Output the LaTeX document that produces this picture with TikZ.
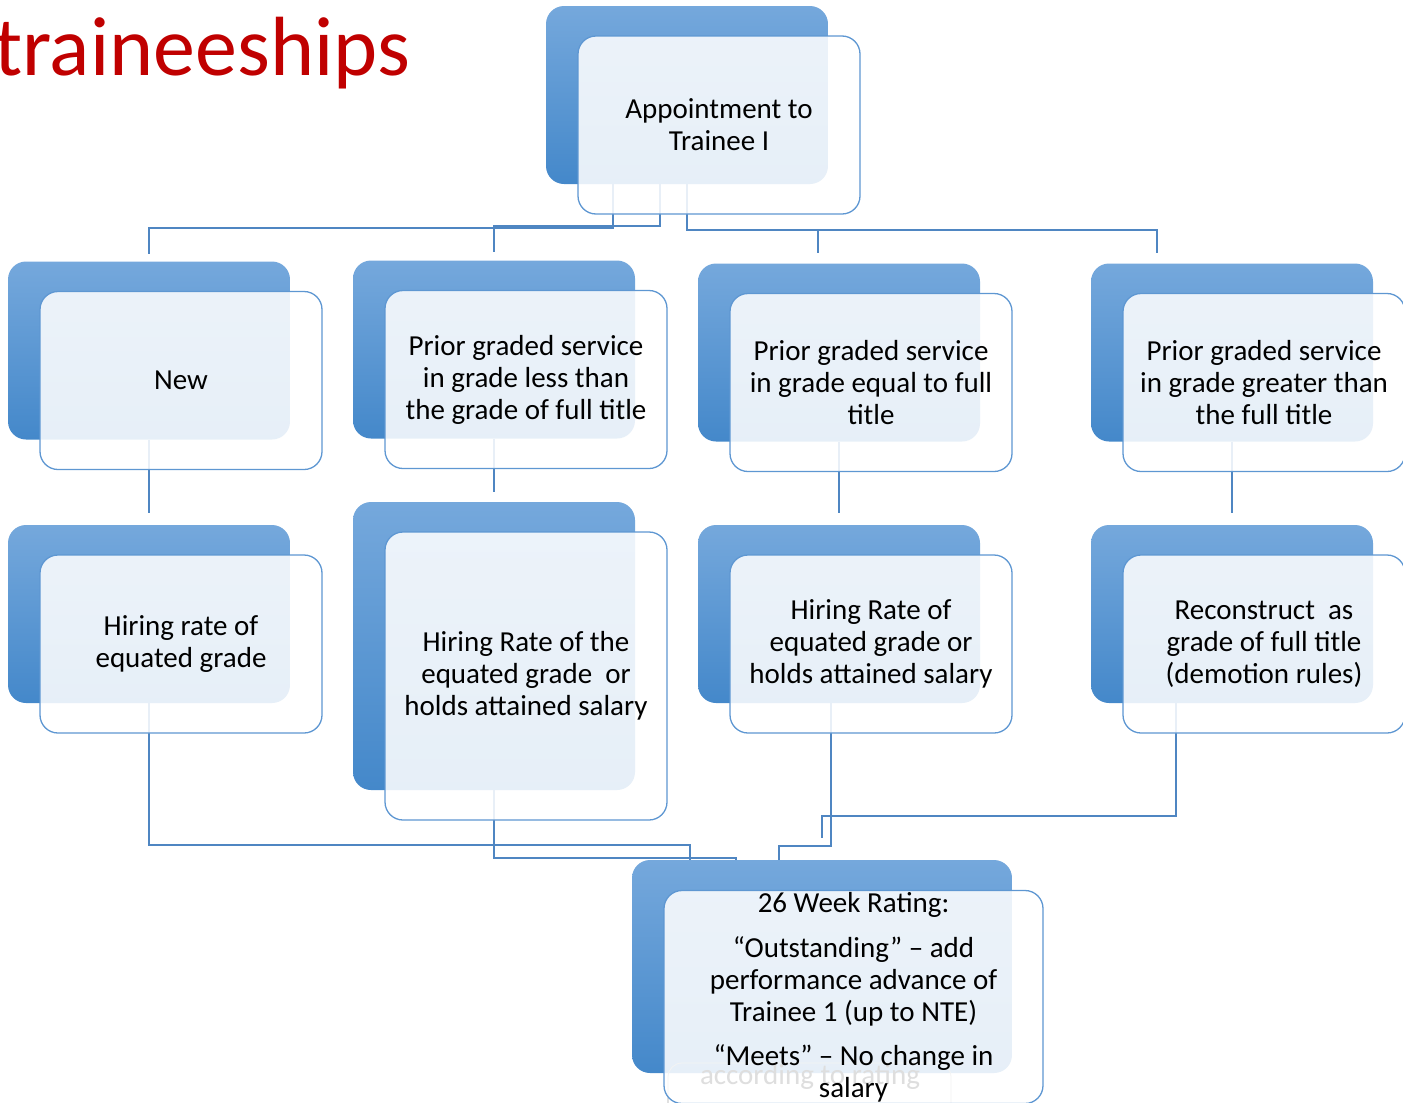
\documentclass[tikz,border=0pt]{standalone}
\usepackage{fontspec}
\setmainfont{Carlito}
\usetikzlibrary{calc}

\definecolor{backtop}{HTML}{75A8DC}
\definecolor{backbot}{HTML}{4488CA}
\definecolor{frontedge}{HTML}{5E97D2}
\definecolor{linkblue}{HTML}{4F86C2}
\definecolor{titlered}{HTML}{C00000}

\newcommand\boxfont{\fontsize{29}{32}\selectfont}

\tikzset{
  backbox/.style={rounded corners=18pt, top color=backtop, bottom color=backbot,
    draw=none, minimum width=282pt, minimum height=178pt, inner sep=0pt, outer sep=0pt},
  frontbox/.style={rounded corners=18pt, draw=frontedge, line width=1.3pt,
    fill=white, fill opacity=0.87, text opacity=1, draw opacity=1,
    minimum width=282pt, minimum height=178pt, inner sep=0pt, outer sep=0pt,
    align=center, font=\boxfont},
  link/.style={draw=linkblue, line width=1.6pt},
}

\begin{document}
\begin{tikzpicture}[x=1pt, y=-1pt]
\useasboundingbox (0,0) rectangle (1403,1103);

% coloured back panels
\node[backbox] (appB)  at (687,95)    {};
\node[backbox] (newB)  at (149,350.5) {};
\node[backbox] (lessB) at (494,349.5) {};
\node[backbox] (eqB)   at (839,352.5) {};
\node[backbox] (grB)   at (1232,352.5) {};
\node[backbox] (hrB)   at (149,614)   {};
\node[backbox, minimum height=288pt] (hrtB) at (494,646) {};
\node[backbox] (hreB)  at (839,614)   {};
\node[backbox] (recB)  at (1232,614)  {};
\node[backbox, minimum width=380pt, minimum height=213pt] (rateB) at (822,966.5) {};

% connectors: appointment to the four cases
\draw[link] ([xshift=-74pt]appB.south) -- ++(0,44) -| ([yshift=8pt]newB.north);
\draw[link] ([xshift=-27pt]appB.south) -- ++(0,42) -| ([yshift=9pt]lessB.north);
\draw[link] (appB.south) -- ++(0,46) -| ([xshift=-75pt,yshift=11pt]grB.north);
\draw[link] ([xshift=-21pt,yshift=11pt]eqB.north) -- ++(0,-22);

% connectors: cases to salary outcome
\draw[link] (newB.south)  -- ([yshift=12pt]hrB.north);
\draw[link] (lessB.south) -- ([yshift=10pt]hrtB.north);
\draw[link] (eqB.south)   -- ([yshift=12pt]hreB.north);
\draw[link] (grB.south)   -- ([yshift=12pt]recB.north);

% connectors: outcomes to the 26 week rating
\draw[link] (hrB.south)  -- ++(0,142) -| ([xshift=-132pt]rateB.north);
\draw[link] (hrtB.south) -- ++(0,68)  -| ([xshift=-86pt]rateB.north);
\draw[link] ([xshift=-8pt]hreB.south) -- ++(0,143) -| ([xshift=-43pt]rateB.north);
\draw[link] ([xshift=-56pt]recB.south) -- ++(0,113) -| ([yshift=22pt]rateB.north);

% overflow text left under the rating panel
\draw[gray!70, line width=0.8pt, rounded corners=14pt] (668,1125) -- (668,1063) -- (951,1063) -- (951,1125);
\node[font=\boxfont, anchor=base, inner sep=0pt] (ghost) at (810,1084) {according to rating};

% light front panels with the texts
\node[frontbox] (app)  at (719,125)    {Appointment to\\Trainee I};
\node[frontbox] (new)  at (181,380.5)  {New};
\node[frontbox] (less) at (526,379.5)  {Prior graded service\\in grade less than\\the grade of full title};
\node[frontbox] (eq)   at (871,382.5)  {Prior graded service\\in grade equal to full\\title};
\node[frontbox] (gr)   at (1264,382.5) {Prior graded service\\in grade greater than\\the full title};
\node[frontbox] (hr)   at (181,644)    {Hiring rate of\\equated grade};
\node[frontbox, minimum height=288pt] (hrt) at (526,676) {Hiring Rate of the\\equated grade\ \ or\\holds attained salary};
\node[frontbox] (hre)  at (871,644)    {Hiring Rate of\\equated grade or\\holds attained salary};
\node[frontbox] (rec)  at (1264,644)   {Reconstruct\ \ as\\grade of full title\\(demotion rules)};
\node[frontbox, minimum width=379pt, minimum height=213pt] (rate) at (853.5,997)
  {26 Week Rating:\\[13pt]“Outstanding” – add\\performance advance of\\Trainee 1 (up to NTE)\\[12pt]“Meets” – No change in\\salary};

% heading
\node[anchor=base west, inner sep=0pt, text=titlered, font=\fontsize{84}{100}\selectfont] (title) at (-6,75) {traineeships};
\end{tikzpicture}
\end{document}
